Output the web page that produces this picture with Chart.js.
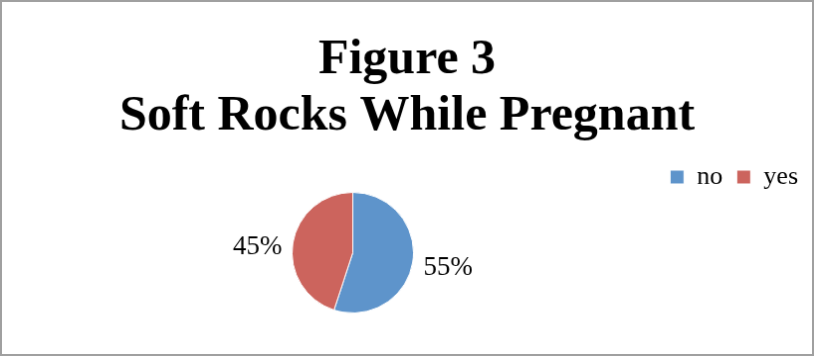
<!DOCTYPE html>
<html lang="en">
<head>
  <meta charset="UTF-8">
  <meta name="viewport" content="width=device-width, initial-scale=1.0">
  <title>Figure 3 - Soft Rocks While Pregnant</title>
  <script src="https://cdn.jsdelivr.net/npm/chart.js"></script>
  <style>
    html, body { margin: 0; padding: 0; background: #fff; }
    #pieChart { display: block; border: 2px solid #a0a0a0; }
  </style>
</head>
<body>
  <canvas id="pieChart" width="814" height="356"></canvas>

  <script>
    // Chart data
    const titleLines = ['Figure 3', 'Soft Rocks While Pregnant'];
    const answers = ['no', 'yes'];
    const percents = [55, 45];
    const sliceColors = ['#5e94cb', '#cc645d'];

    const serif = "'Liberation Serif', 'Times New Roman', serif";

    // Excel puts the pie left of centre, so narrow the plot area on the right
    const narrowPlotArea = {
      id: 'narrowPlotArea',
      afterLayout(chart) {
        const area = chart.chartArea;
        area.right = 705;
        area.width = area.right - area.left;
      }
    };

    // Percent labels just outside each slice
    const outsideLabels = {
      id: 'outsideLabels',
      afterDatasetsDraw(chart) {
        const ctx = chart.ctx;
        const meta = chart.getDatasetMeta(0);
        ctx.save();
        ctx.font = '27px ' + serif;
        ctx.fillStyle = '#000';
        ctx.textAlign = 'center';
        ctx.textBaseline = 'middle';
        meta.data.forEach((arc, i) => {
          const p = arc.getProps(['x', 'y', 'startAngle', 'endAngle', 'outerRadius'], true);
          const mid = (p.startAngle + p.endAngle) / 2;
          const dist = p.outerRadius + 36;
          // Excel's best-fit nudges the left label down a little
          const nudge = Math.cos(mid) < 0 ? 10 : 0;
          ctx.fillText(percents[i] + '%', p.x + Math.cos(mid) * dist, p.y + Math.sin(mid) * dist + nudge);
        });
        ctx.restore();
      }
    };

    const ctx = document.getElementById('pieChart').getContext('2d');
    const chart = new Chart(ctx, {
      type: 'pie',
      data: {
        labels: answers,
        datasets: [{
          data: percents,
          backgroundColor: sliceColors,
          borderColor: '#ffffff',
          borderWidth: 1,
          radius: 61,
          clip: false
        }]
      },
      options: {
        responsive: false,
        animation: false,
        layout: { padding: { bottom: 49 } },
        plugins: {
          title: {
            display: true,
            text: titleLines,
            color: '#000',
            font: { family: serif, size: 50, weight: 'bold', lineHeight: 1.14 },
            padding: { top: 31, bottom: 5 }
          },
          legend: {
            position: 'top',
            align: 'end',
            labels: {
              boxWidth: 14,
              boxHeight: 14,
              padding: 14,
              color: '#000',
              font: { family: serif, size: 26 }
            }
          },
          tooltip: { enabled: false }
        }
      },
      plugins: [narrowPlotArea, outsideLabels]
    });
  </script>
</body>
</html>
